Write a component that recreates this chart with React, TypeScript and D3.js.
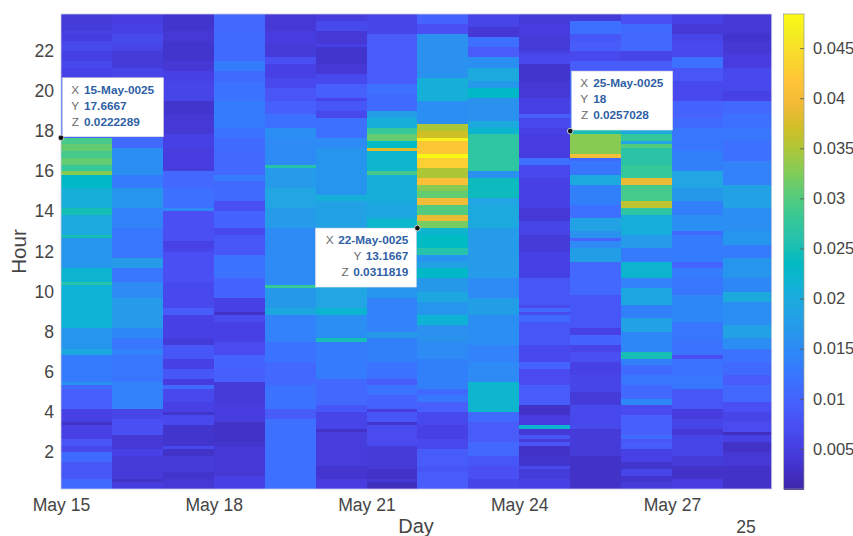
import React, { useEffect, useRef } from 'react';
import * as d3 from 'd3';

// Each day is a list of bands from the top of the chart down: [end row, z * 1000].
// One row is ten minutes.
const may15 = [[5,4.5],[6,5.5],[8,5],[11,6.5],[14,5.5],[16,6.5],[18,5.8],[19,5.5],[37,11],[39,29],[41,31],[43,29],[45,31],[47,28],[48,33],[52,23],[58,21],[60,25],[66,20],[67,25],[76,16.5],[80,22],[81,26],[94,21.5],[100,16.5],[102,19.5],[110,13],[111,16],[112,11],[118,9.5],[122,5.5],[123,3],[127,5.5],[129,8],[131,6.5],[134,11],[139,8.5],[142,11]];
const may16 = [[3,5],[6,5.5],[9,6.5],[11,6],[16,4.5],[19,6],[37,10],[40,11],[48,15.5],[52,13],[58,16.5],[64,14],[73,12.5],[76,17.5],[80,12.5],[85,15],[94,17.5],[97,14.5],[100,12.5],[102,14],[110,12.5],[118,14],[121,6],[126,7.5],[130,4],[132,5.5],[139,4.5],[140,3],[142,5]];
const may17 = [[5,3.5],[8,4],[14,3.5],[17,4],[20,5.5],[26,6],[30,3.5],[36,4],[40,5.5],[47,5],[52,10.5],[58,11.5],[59,15],[68,7.5],[70,5.5],[71,6],[80,7.5],[88,6.5],[90,9],[97,5.5],[99,4.5],[103,8.5],[106,5.5],[109,8.5],[111,5],[112,11],[116,6.5],[119,5.5],[120,3.5],[123,6.5],[129,3.5],[130,6.5],[132,3],[137,4.5],[139,3.5],[142,4]];
const may18 = [[6,10.5],[14,11],[17,13],[20,11],[26,12],[34,13],[37,12],[41,11],[48,10.5],[50,13],[56,11],[59,7.5],[64,10],[66,6.5],[72,8.5],[79,12],[85,10],[89,5.5],[90,3],[92,7],[98,5.5],[102,7],[106,10],[110,9.5],[116,4.5],[122,5],[128,3],[129,3.5],[138,4],[142,5.5]];
const may19 = [[5,4],[9,5],[13,4.5],[15,7.5],[19,5.5],[22,6.5],[26,8],[30,9.5],[34,11.5],[37,15.5],[45,15],[46,26],[52,17.5],[58,19],[64,17.5],[81,15],[82,28],[88,17],[90,19.5],[98,14],[104,12],[111,10.5],[118,12],[121,9],[142,11.5]];
const may20 = [[2,5],[5,6.5],[9,4],[10,5.5],[15,3.5],[18,4],[21,6.5],[25,9.5],[26,6],[29,8.5],[31,6.5],[37,11.5],[40,15],[54,16.5],[56,21],[64,18.5],[81,16.5],[88,19],[90,22],[97,15.5],[98,25],[109,13],[117,10.5],[119,8.5],[124,6],[125,3],[135,4.8],[139,3.7],[142,5]];
const may21 = [[6,6],[21,9],[24,11.5],[29,11],[31,18],[34,21],[36,28],[38,31],[40,23.5],[41,38],[47,22.5],[48,29],[56,21],[61,19.5],[64,22.5],[81,18],[85,16.5],[95,14],[97,17],[104,13.5],[109,12],[111,9],[114,12],[118,10],[119,5],[122,8.5],[123,3.5],[129,7],[136,4.5],[139,3],[140,4],[142,2.5]];
const may22 = [[3,10],[6,7.5],[19,16],[26,21],[33,15.5],[35,35],[37,37],[38,47],[42,42],[43,48],[46,43],[49,35],[51,41],[53,33],[55,31],[57,40],[60,30],[62,39],[64,32],[66,22],[70,23.5],[72,26],[74,16.5],[76,18.5],[79,23],[83,17],[86,19.5],[90,16.5],[93,21.5],[98,16],[103,15],[112,13.5],[114,11],[116,12.5],[119,9.5],[123,6.5],[127,5.5],[130,6.5],[135,9],[137,8.5],[142,9]];
const may23 = [[4,6],[7,4],[10,11.5],[13,9],[16,15.5],[20,20],[22,17],[25,23],[32,16],[34,20],[36,22],[47,27],[49,16],[55,24],[57,19],[64,20],[79,17.5],[85,15],[90,18],[99,15.5],[104,14],[110,15],[119,22.5],[122,11],[128,9],[132,10.5],[135,8.5],[139,7.5],[142,6]];
const may24 = [[3,4.5],[7,5],[11,4.5],[12,5.5],[15,6.5],[20,3.5],[25,4],[30,5.5],[31,9.5],[34,6.5],[36,5.5],[43,5],[45,11.5],[49,6.5],[58,5.5],[62,4],[66,6],[71,4.5],[79,5.5],[87,8.5],[88,6.5],[89,11],[90,7],[92,11],[99,8.5],[104,6.5],[106,10],[111,7],[117,9],[120,3],[123,5],[124,22],[126,4],[127,8],[128,4.5],[129,8],[132,3],[135,3.5],[136,6.5],[139,4.5],[142,5.5]];
const may25 = [[2,4.5],[6,11.5],[8,8.5],[11,9],[14,6.5],[17,9],[34,11],[36,25],[42,33],[43,40],[44,11],[48,12.5],[51,20],[57,13.5],[61,11.5],[65,18.5],[67,16],[68,10],[70,15],[74,18],[84,10.5],[94,8.5],[96,5.5],[99,10],[101,6],[104,7.5],[108,5.5],[113,6],[117,4.5],[124,6.5],[132,4.5],[142,3]];
const may26 = [[3,7.5],[6,11],[11,10.5],[14,6],[17,9],[34,10],[36,20],[38,27.5],[39,19],[40,30],[45,26.5],[49,28],[51,39],[56,29],[58,36],[60,27],[66,20.5],[70,17.5],[74,13],[79,22],[82,14],[87,19.5],[91,13.5],[95,18.5],[101,14.5],[103,25],[105,13.5],[108,11],[111,12.5],[115,10.5],[117,14.5],[120,7],[126,9.5],[127,11],[128,8],[130,9],[134,5.5],[136,3.5],[138,6],[140,3.5],[142,4.5]];
const may27 = [[3,5.5],[6,4],[8,6],[13,6.5],[16,11.5],[20,8],[26,6.5],[31,10],[34,11],[41,12.5],[47,13.5],[52,19],[56,17],[60,13.5],[65,15.5],[66,11],[74,13],[76,10],[79,13],[84,12.5],[92,14.5],[98,12.5],[102,12],[103,7.5],[108,12],[112,12.5],[118,8.5],[121,5],[124,6],[126,4],[132,6],[135,4.5],[139,3],[142,5]];
const may28 = [[6,4],[8,3.5],[12,4],[16,5],[23,6.5],[26,5.5],[30,10.5],[34,11.5],[38,12.5],[44,11.5],[51,14],[58,18.5],[65,15.5],[69,16.5],[73,13],[79,16.5],[83,14.5],[86,20],[93,15.5],[97,18.5],[100,15.5],[104,12],[108,11],[111,9],[116,10.5],[119,7.5],[122,6],[125,7],[126,2.5],[128,5.5],[131,3],[135,4],[142,3]];

const days = [may15, may16, may17, may18, may19, may20, may21, may22, may23, may24, may25, may26, may27, may28];

const hourTicks = [2, 4, 6, 8, 10, 12, 14, 16, 18, 20, 22];
const dayTicks = [0, 3, 6, 9, 12];
const zTicks = [0.005, 0.01, 0.015, 0.02, 0.025, 0.03, 0.035, 0.04, 0.045];

// Data tips
const tipDays = [0, 7, 10];
const tipHours = [17 + 2 / 3, 13 + 1 / 6, 18];
const tipLabels = ['15-May-0025', '22-May-0025', '25-May-0025'];
const tipHourLabels = ['17.6667', '13.1667', '18'];
const tipZLabels = ['0.0222289', '0.0311819', '0.0257028'];

// MATLAB parula, every third entry of the 64 step map
const parula = [
  [.2422,.1504,.6603],[.2647,.1978,.7952],[.2783,.2559,.8991],[.2810,.3228,.9579],[.2699,.3892,.9906],
  [.2206,.4603,.9973],[.1786,.5289,.9682],[.1540,.5902,.9218],[.1248,.6459,.8883],[.0689,.6948,.8394],
  [.0067,.7312,.7660],[.1408,.7584,.6842],[.2161,.7843,.5923],[.3406,.8008,.4789],[.5044,.7993,.3480],
  [.6720,.7793,.2227],[.8203,.7498,.1535],[.9393,.7288,.2100],[.9970,.7659,.2199],[.9786,.8386,.1766],
  [.9597,.9135,.1423],[.9769,.9839,.0805],
].map(([r, g, b]) => d3.rgb(r * 255, g * 255, b * 255).formatHex());

const WIDTH = 853;
const HEIGHT = 536;
const margin = { top: 14, right: 81.3, bottom: 47, left: 61 };
const FONT = '"Liberation Sans", Arial, sans-serif';
const TEXT = '#454545';

const App = () => {
  const svgRef = useRef<SVGSVGElement>(null);

  useEffect(() => {
    const svg = d3.select(svgRef.current);
    svg.selectAll('*').remove();

    const start = Date.UTC(2025, 4, 15);
    const dayMs = 86400000;
    const dayAt = (i: number) => new Date(start + i * dayMs);

    const x = d3.scaleUtc()
      .domain([dayAt(0), new Date(start + 13.958 * dayMs)])
      .range([margin.left, WIDTH - margin.right]);
    const y = d3.scaleLinear()
      .domain([1 / 6, 23 + 5 / 6])
      .range([HEIGHT - margin.bottom, margin.top]);
    const zNorm = d3.scaleLinear().domain([0.001, 0.0484]).range([0, 1]).clamp(true);
    const colors = d3.scaleLinear<string>()
      .domain(parula.map((_, i) => i / (parula.length - 1)))
      .range(parula)
      .interpolate(d3.interpolateRgb);

    const defs = svg.append('defs');
    defs.append('clipPath').attr('id', 'plot-clip').append('rect')
      .attr('x', margin.left)
      .attr('y', margin.top)
      .attr('width', WIDTH - margin.left - margin.right)
      .attr('height', HEIGHT - margin.top - margin.bottom);
    // the reference is a slightly soft screenshot
    defs.append('filter').attr('id', 'soft')
      .append('feGaussianBlur').attr('stdDeviation', 0.45);

    const heat = svg.append('g')
      .attr('clip-path', 'url(#plot-clip)')
      .append('g')
      .attr('filter', 'url(#soft)')
      .attr('shape-rendering', 'crispEdges');
    days.forEach((bands, d) => {
      let row = 0;
      bands.forEach(([end, z]) => {
        for (; row < end; row++) {
          const top = 23 + 5 / 6 - row / 6;
          heat.append('rect')
            .attr('x', x(dayAt(d)))
            .attr('width', x(dayAt(d + 1)) - x(dayAt(d)))
            .attr('y', y(top))
            .attr('height', y(top - 1 / 6) - y(top))
            .attr('fill', colors(zNorm(z / 1000)));
        }
      });
    });

    // light box around the plot
    svg.append('rect')
      .attr('x', margin.left)
      .attr('y', margin.top)
      .attr('width', WIDTH - margin.left - margin.right)
      .attr('height', HEIGHT - margin.top - margin.bottom)
      .attr('fill', 'none')
      .attr('stroke', '#c9cbe0')
      .attr('stroke-width', 0.8);

    // Axes
    const xAxis = svg.append('g')
      .attr('transform', `translate(0,${HEIGHT - margin.bottom})`)
      .call(d3.axisBottom(x)
        .tickValues(dayTicks.map(dayAt))
        .tickFormat(d3.utcFormat('%b %-d') as any)
        .tickSize(0)
        .tickPadding(9.5));
    const yAxis = svg.append('g')
      .attr('transform', `translate(${margin.left},0)`)
      .call(d3.axisLeft(y).tickValues(hourTicks).tickSize(0).tickPadding(7));
    [xAxis, yAxis].forEach(a => {
      a.select('.domain').remove();
      a.selectAll('text')
        .style('font-family', FONT)
        .style('font-size', '17.6px')
        .style('fill', TEXT);
    });

    svg.append('text')
      .attr('x', 416)
      .attr('y', 533)
      .attr('text-anchor', 'middle')
      .style('font-family', FONT)
      .style('font-size', '20px')
      .style('fill', TEXT)
      .text('Day');
    svg.append('text')
      .attr('x', 746)
      .attr('y', 533)
      .attr('text-anchor', 'middle')
      .style('font-family', FONT)
      .style('font-size', '17.6px')
      .style('fill', TEXT)
      .text('25');
    svg.append('text')
      .attr('transform', `translate(26,${(margin.top + HEIGHT - margin.bottom) / 2}) rotate(-90)`)
      .attr('text-anchor', 'middle')
      .style('font-family', FONT)
      .style('font-size', '20.5px')
      .style('fill', TEXT)
      .text('Hour');

    // Colorbar
    const barLeft = 783.5;
    const barWidth = 20.5;
    const zBar = d3.scaleLinear()
      .domain([0.001, 0.0484])
      .range([HEIGHT - margin.bottom, margin.top]);
    const steps = d3.range(0, 200);
    const bar = svg.append('g').attr('shape-rendering', 'crispEdges');
    bar.selectAll('rect')
      .data(steps)
      .enter()
      .append('rect')
      .attr('x', barLeft)
      .attr('width', barWidth)
      .attr('y', s => zBar.range()[0] - ((s + 1) / 200) * (zBar.range()[0] - zBar.range()[1]))
      .attr('height', (zBar.range()[0] - zBar.range()[1]) / 200 + 0.5)
      .attr('fill', s => colors((s + 0.5) / 200));
    svg.append('rect')
      .attr('x', barLeft)
      .attr('y', margin.top)
      .attr('width', barWidth)
      .attr('height', HEIGHT - margin.top - margin.bottom)
      .attr('fill', 'none')
      .attr('stroke', '#9a9a8a')
      .attr('stroke-width', 0.7);
    const zAxis = svg.append('g')
      .attr('transform', `translate(${barLeft + barWidth},0)`)
      .call(d3.axisRight(zBar).tickValues(zTicks).tickSize(-4).tickPadding(9).tickFormat(d => String(+d)));
    zAxis.select('.domain').remove();
    zAxis.selectAll('line').attr('stroke', '#555').attr('stroke-width', 0.8);
    zAxis.selectAll('text')
      .style('font-family', FONT)
      .style('font-size', '16.5px')
      .style('fill', TEXT);

    // Data tips
    tipDays.forEach((d, i) => {
      const px = x(dayAt(d));
      const py = y(tipHours[i]);
      const rightAligned = i === 1;
      const boxW = 101;
      const boxH = 59;
      const boxX = rightAligned ? px - boxW - 1 : px + 1.5;
      const boxY = rightAligned ? py : py - boxH - 1;
      const g = svg.append('g');
      g.append('rect')
        .attr('x', boxX)
        .attr('y', boxY)
        .attr('width', boxW)
        .attr('height', boxH)
        .attr('fill', '#fff')
        .attr('stroke', '#d8d8d8')
        .attr('stroke-width', 0.5);
      const rows = [['X', tipLabels[i]], ['Y', tipHourLabels[i]], ['Z', tipZLabels[i]]];
      rows.forEach(([name, value], r) => {
        const ty = boxY + 16 + r * 16;
        const valueText = g.append('text')
          .attr('y', ty)
          .style('font-family', FONT)
          .style('font-size', '11.8px')
          .style('font-weight', 'bold')
          .style('fill', '#2f5fa5')
          .text(value);
        const nameText = g.append('text')
          .attr('y', ty)
          .attr('text-anchor', 'end')
          .style('font-family', FONT)
          .style('font-size', '11.8px')
          .style('fill', '#6a6a6a')
          .text(name);
        if (rightAligned) {
          const right = boxX + boxW - 8;
          const w = (valueText.node() as SVGTextElement).getComputedTextLength();
          valueText.attr('x', right).attr('text-anchor', 'end');
          nameText.attr('x', right - w - 4.5);
        } else {
          valueText.attr('x', boxX + 21.5);
          nameText.attr('x', boxX + 16.5);
        }
      });
      g.append('circle')
        .attr('cx', px)
        .attr('cy', py)
        .attr('r', 2.8)
        .attr('fill', '#111')
        .attr('stroke', '#e8e8e8')
        .attr('stroke-width', 0.8);
    });
  }, []);

  return (
    <svg
      ref={svgRef}
      width={WIDTH}
      height={HEIGHT}
      style={{ position: 'absolute', left: 0, top: 0, background: '#fff' }}
    />
  );
};

export default App;
